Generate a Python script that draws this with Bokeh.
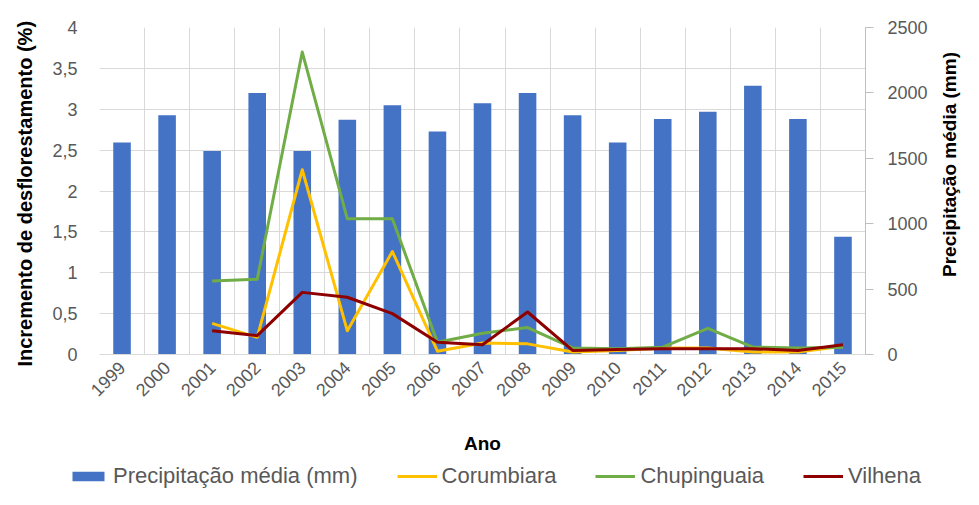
import math
from bokeh.plotting import figure
from bokeh.layouts import row, column
from bokeh.models import (Range1d, LinearAxis, FixedTicker, Legend, LegendItem,
                          ColumnDataSource, Label)
from bokeh.embed import file_html
from bokeh.resources import INLINE

# ---------------- data ----------------
years = ["1999", "2000", "2001", "2002", "2003", "2004", "2005", "2006", "2007",
         "2008", "2009", "2010", "2011", "2012", "2013", "2014", "2015"]
precipitacao = [1620, 1830, 1555, 2000, 1555, 1795, 1905, 1705, 1920,
                2000, 1830, 1620, 1800, 1855, 2055, 1800, 900]
corumbiara = [None, None, 0.38, 0.21, 2.26, 0.29, 1.26, 0.04, 0.14,
              0.13, 0.03, 0.05, 0.08, 0.08, 0.03, 0.03, 0.10]
chupinguaia = [None, None, 0.90, 0.92, 3.70, 1.66, 1.66, 0.15, 0.26,
               0.33, 0.08, 0.07, 0.09, 0.32, 0.09, 0.08, 0.09]
vilhena = [None, None, 0.29, 0.23, 0.76, 0.70, 0.50, 0.15, 0.12,
           0.52, 0.05, 0.06, 0.07, 0.07, 0.07, 0.05, 0.12]
left_ticks = [0, 0.5, 1, 1.5, 2, 2.5, 3, 3.5, 4]
left_tick_labels = ["0", "0,5", "1", "1,5", "2", "2,5", "3", "3,5", "4"]
right_ticks = [0, 500, 1000, 1500, 2000, 2500]
series_names = ["Precipitação média (mm)", "Corumbiara", "Chupinguaia", "Vilhena"]
series_colors = ["#4472C4", "#FFC000", "#70AD47", "#8E0000"]
left_title = "Incremento de desflorestamento  (%)"
right_title = "Precipitação média (mm)"
x_title = "Ano"

FONT = "Liberation Sans"
TXT = "#595959"
GRID = "#D9D9D9"

def nanify(vals):
    return [float("nan") if v is None else v for v in vals]

def bare(fig):
    fig.outline_line_color = None
    fig.background_fill_color = "white"
    fig.border_fill_color = "white"
    return fig

x_idx = list(range(len(years)))
src = ColumnDataSource(dict(
    x=x_idx, precip=precipitacao,
    cor=nanify(corumbiara), chu=nanify(chupinguaia), vil=nanify(vilhena)))

# ---------------- main chart ----------------
p = figure(frame_width=766, frame_height=327, output_backend="svg", toolbar_location=None,
           x_range=Range1d(-0.5, len(years) - 0.5), y_range=Range1d(0, left_ticks[-1]),
           min_border_left=99, min_border_right=70, min_border_top=27,
           min_border_bottom=110)
p.extra_y_ranges = {"precip": Range1d(0, right_ticks[-1])}
bare(p)

p.ygrid.ticker = FixedTicker(ticks=left_ticks)
p.ygrid.grid_line_color = GRID
p.xgrid.ticker = FixedTicker(ticks=[i - 0.5 for i in range(len(years) + 1)])
p.xgrid.grid_line_color = GRID

p.vbar(x="x", top="precip", width=0.39, source=src, y_range_name="precip",
       fill_color=series_colors[0], line_color=None)
p.line("x", "cor", source=src, line_color=series_colors[1], line_width=3, line_join="round")
p.line("x", "chu", source=src, line_color=series_colors[2], line_width=3, line_join="round")
p.line("x", "vil", source=src, line_color=series_colors[3], line_width=3, line_join="round")

xa = p.xaxis[0]
xa.ticker = FixedTicker(ticks=x_idx)
xa.major_label_overrides = {i: y for i, y in zip(x_idx, years)}
xa.major_label_orientation = math.pi / 4
xa.major_label_text_font = FONT
xa.major_label_text_font_size = "18px"
xa.major_label_text_color = TXT
xa.major_label_standoff = 10
xa.major_tick_line_color = None
xa.minor_tick_line_color = None
xa.major_tick_out = 0
xa.axis_line_color = GRID
xa.axis_label = x_title
xa.axis_label_text_font = FONT
xa.axis_label_text_font_style = "bold"
xa.axis_label_text_font_size = "19px"
xa.axis_label_text_color = "#000000"
xa.axis_label_standoff = 28

ya = p.yaxis[0]
ya.ticker = FixedTicker(ticks=left_ticks)
ya.major_label_overrides = {t: l for t, l in zip(left_ticks, left_tick_labels)}
ya.major_label_text_font = FONT
ya.major_label_text_font_size = "18px"
ya.major_label_text_color = TXT
ya.major_label_standoff = 22
ya.major_tick_line_color = None
ya.minor_tick_line_color = None
ya.major_tick_out = 0
ya.axis_line_color = None
ya.axis_label = left_title
ya.axis_label_text_font = FONT
ya.axis_label_text_font_style = "bold"
ya.axis_label_text_font_size = "20px"
ya.axis_label_text_color = "#000000"
ya.axis_label_standoff = 13

ra = LinearAxis(y_range_name="precip", ticker=FixedTicker(ticks=right_ticks))
ra.major_label_text_font = FONT
ra.major_label_text_font_size = "18px"
ra.major_label_text_color = TXT
ra.major_label_standoff = 14
ra.axis_line_color = "#BFBFBF"
ra.major_tick_line_color = "#BFBFBF"
ra.major_tick_out = 8
ra.major_tick_in = 0
ra.minor_tick_line_color = None
p.add_layout(ra, "right")

main_h = 27 + 327 + 110

# ---------------- right-axis title strip (reads bottom to top) ----------------
r = figure(frame_width=28, frame_height=main_h, output_backend="svg", toolbar_location=None,
           x_range=Range1d(0, 1), y_range=Range1d(0, main_h),
           x_axis_location=None, y_axis_location=None,
           min_border_left=0, min_border_right=0, min_border_top=0, min_border_bottom=0)
bare(r)
r.xgrid.visible = False
r.ygrid.visible = False
r.add_layout(Label(x=0.5, y=main_h - 137, text=right_title, angle=math.pi / 2,
                   angle_units="rad", text_align="center", text_baseline="middle",
                   text_font=FONT, text_font_style="bold", text_font_size="19px",
                   text_color="#000000"))

# ---------------- legend strip ----------------
lg = figure(frame_width=963, frame_height=25, output_backend="svg", toolbar_location=None,
            x_range=Range1d(0, 1), y_range=Range1d(0, 1),
            x_axis_location=None, y_axis_location=None,
            min_border_left=0, min_border_right=0, min_border_top=0, min_border_bottom=0)
bare(lg)
lg.xgrid.visible = False
lg.ygrid.visible = False
# one point far outside the visible range, only so that the legend draws its swatches
proxy = ColumnDataSource(dict(x=[-10, -11], y=[-10, -10], top=[-10, -10]))
g_bar = lg.vbar(x="x", top="top", bottom="y", width=0.5, source=proxy,
                fill_color=series_colors[0], line_color=None)
g_lines = [lg.line("x", "y", source=proxy, line_color=c, line_width=3)
           for c in series_colors[1:]]
legend = Legend(items=[LegendItem(label=series_names[0], renderers=[g_bar])] +
                [LegendItem(label=n, renderers=[g]) for n, g in zip(series_names[1:], g_lines)],
                orientation="horizontal", location=(68, 0))
legend.label_text_font = FONT
legend.label_text_font_size = "22px"
legend.label_text_color = TXT
legend.glyph_width = 40
legend.glyph_height = 12
legend.label_standoff = 5
legend.spacing = 39
legend.padding = 0
legend.margin = 0
legend.border_line_color = None
legend.background_fill_alpha = 0
lg.add_layout(legend, "center")

layout = column(row(p, r), lg)
open("out.html", "w").write(file_html(layout, INLINE))
